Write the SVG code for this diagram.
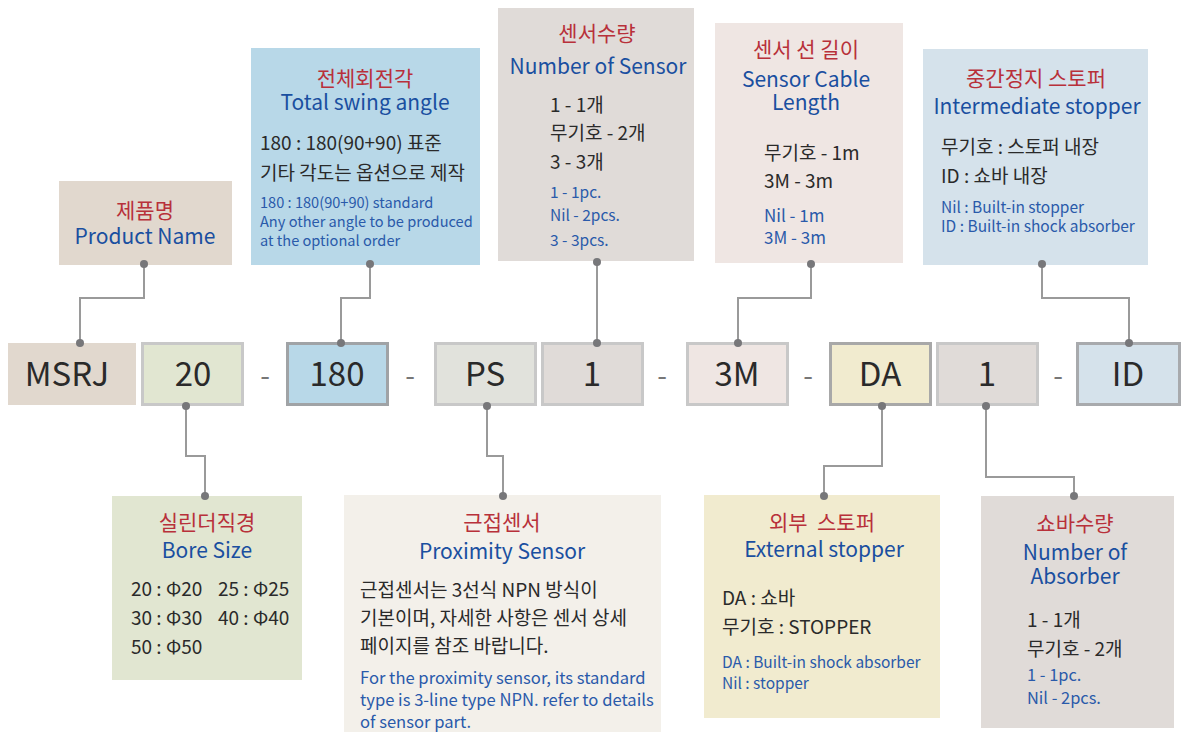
<svg xmlns="http://www.w3.org/2000/svg" width="1183" height="732" viewBox="0 0 1183 732">
<style>
text{font-family:"Noto Sans CJK KR","Noto Sans",sans-serif}
.t{fill:#b8303a;font-size:21px;text-anchor:middle}
.s{fill:#1a4fa0;font-size:21px;text-anchor:middle}
.b{fill:#2a2a2a;font-size:19px}
.e{fill:#2a5aaa;font-size:15.5px}
.c{fill:#2a2a2a;font-size:33px;text-anchor:middle}
.d{fill:#777;font-size:28px;text-anchor:middle}
.k{stroke-width:3}
.ln{fill:none;stroke:#9a9a9a;stroke-width:2}
.dt{fill:#77777a}
</style>
<rect width="1183" height="732" fill="#fff"/>

<g id="n-product">
<rect x="59" y="181" width="173" height="84" fill="#e1d8ce"/>
<text class="t" x="145" y="218">제품명</text>
<text class="s" x="145" y="244">Product Name</text>
</g>

<g id="n-swing">
<rect x="251" y="48" width="229" height="217" fill="#b8d8e8"/>
<text class="t" x="365" y="86">전체회전각</text>
<text class="s" x="365" y="110">Total swing angle</text>
<text class="b" x="260" y="150">180 : 180(90+90) 표준</text>
<text class="b" x="260" y="180">기타 각도는 옵션으로 제작</text>
<text class="e" x="260" y="208" style="font-size:14.6px">180 : 180(90+90) standard</text>
<text class="e" x="260" y="227" style="font-size:14.6px">Any other angle to be produced</text>
<text class="e" x="260" y="246" style="font-size:14.6px">at the optional order</text>
</g>

<g id="n-sensor-qty">
<rect x="498" y="8" width="196" height="253" fill="#e0dbd8"/>
<text class="t" x="597" y="41">센서수량</text>
<text class="s" x="598" y="74">Number of Sensor</text>
<text class="b" x="550" y="112">1 - 1개</text>
<text class="b" x="550" y="140">무기호 - 2개</text>
<text class="b" x="550" y="169">3 - 3개</text>
<text class="e" x="550" y="198">1 - 1pc.</text>
<text class="e" x="550" y="221">Nil - 2pcs.</text>
<text class="e" x="550" y="246">3 - 3pcs.</text>
</g>

<g id="n-cable">
<rect x="715" y="23" width="188" height="240" fill="#efe6e3"/>
<text class="t" x="806" y="57">센서 선 길이</text>
<text class="s" x="806" y="87">Sensor Cable</text>
<text class="s" x="806" y="110">Length</text>
<text class="b" x="764" y="160">무기호 - 1m</text>
<text class="b" x="764" y="188">3M - 3m</text>
<text class="e" x="764" y="222" style="font-size:17px">Nil - 1m</text>
<text class="e" x="764" y="244" style="font-size:17px">3M - 3m</text>
</g>

<g id="n-intermediate">
<rect x="923" y="49" width="225" height="216" fill="#d5e2eb"/>
<text class="t" x="1036" y="86">중간정지 스토퍼</text>
<text class="s" x="1037" y="114">Intermediate stopper</text>
<text class="b" x="941" y="154">무기호 : 스토퍼 내장</text>
<text class="b" x="941" y="183">ID : 쇼바 내장</text>
<text class="e" x="941" y="213">Nil : Built-in stopper</text>
<text class="e" x="941" y="232">ID : Built-in shock absorber</text>
</g>

<g id="c-msrj">
<rect x="8" y="343" width="128" height="62" fill="#e1d8ce"/>
<text class="c" x="67" y="386">MSRJ</text>
</g>
<g id="c-20">
<rect class="k" x="142.5" y="343.5" width="100" height="61" fill="#e1e6d1" stroke="#c8c8c8"/>
<text class="c" x="193" y="386">20</text>
</g>
<text class="d" x="265" y="386">-</text>
<g id="c-180">
<rect class="k" x="287.5" y="343.5" width="100" height="61" fill="#b8d8e8" stroke="#a0a3a6"/>
<text class="c" x="337" y="386">180</text>
</g>
<text class="d" x="410" y="386">-</text>
<g id="c-ps">
<rect class="k" x="435.5" y="343.5" width="100" height="61" fill="#e1e2dc" stroke="#c8c8c8"/>
<text class="c" x="485" y="386">PS</text>
</g>
<g id="c-1a">
<rect class="k" x="542.5" y="343.5" width="100" height="61" fill="#e0dbd8" stroke="#c8c8c8"/>
<text class="c" x="592" y="386">1</text>
</g>
<text class="d" x="662" y="386">-</text>
<g id="c-3m">
<rect class="k" x="687.5" y="343.5" width="100" height="61" fill="#efe6e3" stroke="#c8c8c8"/>
<text class="c" x="737" y="386">3M</text>
</g>
<text class="d" x="808" y="386">-</text>
<g id="c-da">
<rect class="k" x="830.5" y="343.5" width="100" height="61" fill="#f1ebcf" stroke="#a8a8a8"/>
<text class="c" x="880" y="386">DA</text>
</g>
<g id="c-1b">
<rect class="k" x="937.5" y="343.5" width="100" height="61" fill="#e0dbd8" stroke="#c8c8c8"/>
<text class="c" x="987" y="386">1</text>
</g>
<text class="d" x="1058" y="386">-</text>
<g id="c-id">
<rect class="k" x="1077.5" y="343.5" width="102" height="61" fill="#d5e2eb" stroke="#a8aaad"/>
<text class="c" x="1128" y="386">ID</text>
</g>

<g id="n-bore">
<rect x="112" y="496" width="190" height="184" fill="#e1e6d1"/>
<text class="t" x="207" y="530">실린더직경</text>
<text class="s" x="207" y="558">Bore Size</text>
<text class="b" x="131" y="596">20 : Φ20</text>
<text class="b" x="218" y="596">25 : Φ25</text>
<text class="b" x="131" y="625">30 : Φ30</text>
<text class="b" x="218" y="625">40 : Φ40</text>
<text class="b" x="131" y="654">50 : Φ50</text>
</g>

<g id="n-proximity">
<rect x="344" y="495" width="317" height="237" fill="#f3f0ea"/>
<text class="t" x="502" y="530">근접센서</text>
<text class="s" x="502" y="559">Proximity Sensor</text>
<text class="b" x="360" y="597">근접센서는 3선식 NPN 방식이</text>
<text class="b" x="360" y="625">기본이며, 자세한 사항은 센서 상세</text>
<text class="b" x="360" y="653">페이지를 참조 바랍니다.</text>
<text class="e" x="360" y="684" style="font-size:16.6px">For the proximity sensor, its standard</text>
<text class="e" x="360" y="706" style="font-size:16.6px">type is 3-line type NPN. refer to details</text>
<text class="e" x="360" y="728" style="font-size:16.6px">of sensor part.</text>
</g>

<g id="n-external">
<rect x="704" y="495" width="236" height="223" fill="#f1ebcf"/>
<text class="t" x="822" y="530" xml:space="preserve">외부  스토퍼</text>
<text class="s" x="824" y="557">External stopper</text>
<text class="b" x="722" y="605">DA : 쇼바</text>
<text class="b" x="722" y="634">무기호 : STOPPER</text>
<text class="e" x="722" y="668">DA : Built-in shock absorber</text>
<text class="e" x="722" y="689">Nil : stopper</text>
</g>

<g id="n-absorber">
<rect x="981" y="496" width="193" height="232" fill="#e0dbd8"/>
<text class="t" x="1075" y="531">쇼바수량</text>
<text class="s" x="1075" y="560">Number of</text>
<text class="s" x="1075" y="584">Absorber</text>
<text class="b" x="1027" y="627">1 - 1개</text>
<text class="b" x="1027" y="656">무기호 - 2개</text>
<text class="e" x="1027" y="681" style="font-size:16.4px">1 - 1pc.</text>
<text class="e" x="1027" y="704" style="font-size:16.4px">Nil - 2pcs.</text>
</g>

<g id="connectors">
<polyline class="ln" points="144,264 144,298 80,298 80,343"/>
<polyline class="ln" points="370,264 370,298 341,298 341,343"/>
<polyline class="ln" points="597,262 597,343"/>
<polyline class="ln" points="811,264 811,298 738,298 738,343"/>
<polyline class="ln" points="1042,264 1042,298 1129,298 1129,343"/>
<polyline class="ln" points="186,406 186,456 205,456 205,496"/>
<polyline class="ln" points="487,406 487,456 503,456 503,496"/>
<polyline class="ln" points="882,406 882,466 824,466 824,496"/>
<polyline class="ln" points="986,406 986,477 1074,477 1074,496"/>
<g class="dt">
<circle cx="144" cy="264" r="4"/><circle cx="80" cy="343" r="4"/>
<circle cx="370" cy="264" r="4"/><circle cx="341" cy="343" r="4"/>
<circle cx="597" cy="262" r="4"/><circle cx="597" cy="343" r="4"/>
<circle cx="811" cy="264" r="4"/><circle cx="738" cy="343" r="4"/>
<circle cx="1042" cy="264" r="4"/><circle cx="1129" cy="343" r="4"/>
<circle cx="186" cy="406" r="4"/><circle cx="205" cy="496" r="4"/>
<circle cx="487" cy="406" r="4"/><circle cx="503" cy="496" r="4"/>
<circle cx="882" cy="406" r="4"/><circle cx="824" cy="496" r="4"/>
<circle cx="986" cy="406" r="4"/><circle cx="1074" cy="496" r="4"/>
</g>
</g>
</svg>
